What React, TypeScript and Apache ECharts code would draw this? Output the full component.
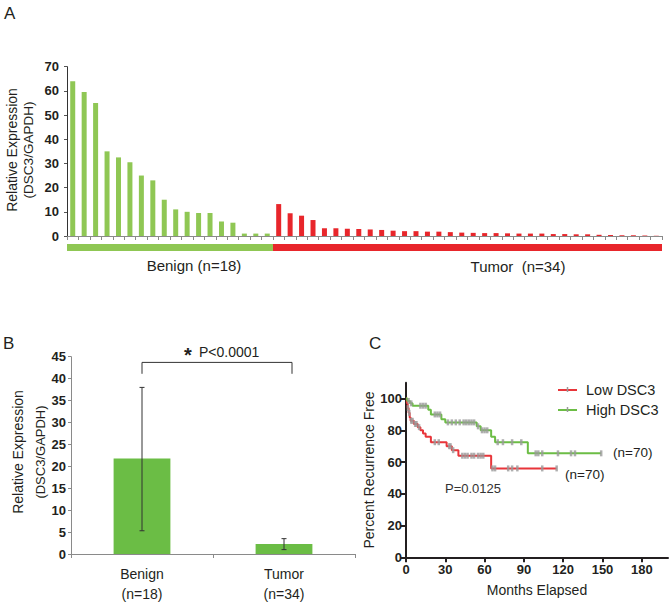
import React, { useEffect, useRef } from "react";
import * as echarts from "echarts";

const FONT = '"Liberation Sans", Arial, Helvetica, sans-serif';

// Panel A
const benignValues = [64, 59.5, 55, 35, 32.5, 30.5, 25, 23, 15, 11, 10, 9.5, 9.5, 6, 5.5, 1, 1, 1];
const tumorValues = [13.2, 9.4, 8.4, 6.6, 3.2, 3.2, 3.0, 2.9, 2.7, 2.5, 2.2, 2.0, 2.0, 1.8, 1.8, 1.6, 1.4, 1.3, 1.2, 1.2, 1.1, 1.0, 1.0, 1.0, 0.8, 0.8, 0.7, 0.7, 0.5, 0.4, 0.3, 0.3, 0.2, 0.1];
const groupLabels = ["Benign (n=18)", "Tumor  (n=34)"];

// Panel B
const bCategories = ["Benign\n(n=18)", "Tumor\n(n=34)"];
const bMeans = [21.8, 2.3];
const bErrLow = [5.3, 1.0];
const bErrHigh = [38.0, 3.5];
const bSignificance = "P<0.0001";
const bBracketY = [43.7, 41.1];

// Panel C (Kaplan–Meier steps: [month, percent])
const lowDsc3Steps = [[0, 100], [0.7, 97], [1.3, 94], [2, 91], [2.8, 88], [3.5, 86], [6, 84], [9, 82], [11, 80], [13, 78], [15, 76], [19, 72.5], [31, 70], [35, 67.5], [40, 64], [65, 56], [115, 56]];
const highDsc3Steps = [[0, 100], [1, 98.5], [3, 97], [5, 95.5], [17, 93], [19, 90], [27, 87], [30, 85], [54, 82.5], [57, 80], [65, 76], [68, 72.5], [93, 65.5], [149, 65.5]];
const lowCensor = [1.5, 2.5, 4, 5, 7, 8, 10, 22, 25, 33, 34, 36, 43, 45, 47, 50, 52, 55, 57, 59, 66, 68, 78, 81, 85, 104, 115];
const highCensor = [2, 4, 11, 13, 15, 22, 24, 26, 32, 35, 38, 41, 44, 46, 48, 50, 52, 55, 58, 60, 62, 70, 74, 81, 88, 99, 101, 104, 116, 126, 129, 149];
const cXTicks = [0, 30, 60, 90, 120, 150, 180];
const cYTicks = [0, 20, 40, 60, 80, 100];

function survivalAt(steps: number[][], t: number) {
  let s = steps[0][1];
  for (const [tt, v] of steps) {
    if (tt <= t) s = v;
  }
  return s;
}

const RED = "#e8262b";
const GREEN_A = "#8fc754";
const GREEN_B = "#6bbd45";
const GREEN_C = "#6cbd45";
const RED_C = "#e8353a";

export default function App() {
  const ref = useRef<HTMLDivElement>(null);
  useEffect(() => {
    if (!ref.current) return;
    const chart = echarts.init(ref.current, null, { renderer: "svg" });

    const nA = benignValues.length + tumorValues.length;
    const aCats = Array.from({ length: nA }, (_, i) => String(i + 1));
    const gridA = { left: 67, right: 10, top: 66.7, bottom: 368 };
    const aWidth = 672 - gridA.left - gridA.right;
    const splitX = gridA.left + (aWidth * benignValues.length) / nA;

    const boldTick = { fontWeight: "bold" as const, fontSize: 13, color: "#231f20", fontFamily: FONT };

    const option: any = {
      animation: false,
      backgroundColor: "#ffffff",
      grid: [
        gridA,
        { left: 71, width: 284, top: 356.7, bottom: 47 },
        { left: 406, right: 4, top: 382.7, bottom: 46.7 },
      ],
      xAxis: [
        {
          gridIndex: 0,
          type: "category",
          data: aCats,
          boundaryGap: true,
          axisLine: { lineStyle: { color: "#8a8a8a", width: 1 } },
          axisTick: { show: true, interval: 0, length: 4, lineStyle: { color: "#8a8a8a" } },
          axisLabel: { show: false },
        },
        {
          gridIndex: 1,
          type: "category",
          data: bCategories,
          boundaryGap: true,
          axisLine: { lineStyle: { color: "#8a8a8a", width: 1 } },
          axisTick: { show: true, length: 4, lineStyle: { color: "#8a8a8a" } },
          axisLabel: { fontSize: 14, color: "#231f20", fontFamily: FONT, lineHeight: 20, margin: 10 },
        },
        {
          gridIndex: 2,
          type: "value",
          min: 0,
          max: 200,
          splitLine: { show: false },
          axisLine: { lineStyle: { color: "#231f20", width: 2 } },
          axisTick: { show: true, length: 5, lineStyle: { color: "#231f20", width: 2 }, customValues: cXTicks },
          axisLabel: { ...boldTick, customValues: cXTicks, margin: 6 },
          name: "Months Elapsed",
          nameLocation: "middle",
          nameGap: 26,
          nameTextStyle: { fontSize: 14, color: "#231f20", fontFamily: FONT },
        },
      ],
      yAxis: [
        {
          gridIndex: 0,
          type: "value",
          min: 0,
          max: 70,
          interval: 10,
          splitLine: { show: false },
          axisLine: { show: true, lineStyle: { color: "#333", width: 1 } },
          axisTick: { show: true, length: 3, lineStyle: { color: "#555" } },
          axisLabel: { ...boldTick, margin: 8 },
        },
        {
          gridIndex: 1,
          type: "value",
          min: 0,
          max: 45,
          interval: 5,
          splitLine: { show: false },
          axisLine: { show: true, lineStyle: { color: "#8a8a8a", width: 1 } },
          axisTick: { show: true, length: 3, lineStyle: { color: "#8a8a8a" } },
          axisLabel: { ...boldTick, margin: 5 },
        },
        {
          gridIndex: 2,
          type: "value",
          min: 0,
          max: 110,
          splitLine: { show: false },
          axisLine: { show: true, lineStyle: { color: "#231f20", width: 2 } },
          axisTick: { show: true, length: 5, lineStyle: { color: "#231f20", width: 2 }, customValues: cYTicks },
          axisLabel: { ...boldTick, customValues: cYTicks, margin: 4 },
          name: "Percent Recurrence Free",
          nameLocation: "middle",
          nameGap: 28,
          nameTextStyle: { fontSize: 14, color: "#231f20", fontFamily: FONT },
        },
      ],
      series: [
        {
          type: "bar",
          xAxisIndex: 0,
          yAxisIndex: 0,
          barWidth: 5,
          data: [
            ...benignValues.map((v) => ({ value: v, itemStyle: { color: GREEN_A } })),
            ...tumorValues.map((v) => ({ value: v, itemStyle: { color: RED } })),
          ],
        },
        {
          type: "bar",
          xAxisIndex: 1,
          yAxisIndex: 1,
          barWidth: "40%",
          itemStyle: { color: GREEN_B },
          data: bMeans,
        },
        {
          type: "custom",
          xAxisIndex: 1,
          yAxisIndex: 1,
          encode: { x: 0, y: [1, 2] },
          data: bMeans.map((_, i) => [i, bErrLow[i], bErrHigh[i]]),
          z: 10,
          renderItem: (params: any, api: any) => {
            const x = api.value(0);
            const lo = api.coord([x, api.value(1)]);
            const hi = api.coord([x, api.value(2)]);
            const cap = 2.5;
            const st = { stroke: "#333", lineWidth: 1 };
            return {
              type: "group",
              children: [
                { type: "line", shape: { x1: lo[0], y1: lo[1], x2: hi[0], y2: hi[1] }, style: st },
                { type: "line", shape: { x1: hi[0] - cap, y1: hi[1], x2: hi[0] + cap, y2: hi[1] }, style: st },
                { type: "line", shape: { x1: lo[0] - cap, y1: lo[1], x2: lo[0] + cap, y2: lo[1] }, style: st },
              ],
            };
          },
        },
        {
          type: "custom",
          xAxisIndex: 1,
          yAxisIndex: 1,
          encode: { x: [0, 1], y: [2, 3] },
          data: [[0, 1, bBracketY[0], bBracketY[1]]],
          z: 10,
          renderItem: (params: any, api: any) => {
            const a = api.coord([api.value(0), api.value(2)]);
            const b = api.coord([api.value(1), api.value(2)]);
            const aLeg = api.coord([api.value(0), api.value(3)]);
            const x2 = b[0] + 8;
            const st = { stroke: "#333", lineWidth: 1, fill: null };
            const mid = (a[0] + x2) / 2;
            return {
              type: "group",
              children: [
                { type: "polyline", shape: { points: [[a[0], aLeg[1]], [a[0], a[1]], [x2, a[1]], [x2, aLeg[1]]] }, style: st },
                { type: "text", style: { text: "*", x: mid - 29, y: a[1] - 7, fontSize: 20, fontWeight: "bold", fontFamily: FONT, fill: "#231f20", align: "center", verticalAlign: "middle" } },
                { type: "text", style: { text: bSignificance, x: mid - 18, y: a[1] - 10, fontSize: 14, fontFamily: FONT, fill: "#231f20", align: "left", verticalAlign: "middle" } },
              ],
            };
          },
        },
        {
          type: "line",
          name: "Low DSC3",
          xAxisIndex: 2,
          yAxisIndex: 2,
          step: "end",
          showSymbol: false,
          lineStyle: { color: RED_C, width: 2 },
          data: lowDsc3Steps,
          z: 3,
        },
        {
          type: "line",
          name: "High DSC3",
          xAxisIndex: 2,
          yAxisIndex: 2,
          step: "end",
          showSymbol: false,
          lineStyle: { color: GREEN_C, width: 2 },
          data: highDsc3Steps,
          z: 3,
        },
        {
          type: "scatter",
          xAxisIndex: 2,
          yAxisIndex: 2,
          symbol: "rect",
          symbolSize: [2.5, 6],
          itemStyle: { color: "#9a9a9a" },
          data: lowCensor.map((t) => [t, survivalAt(lowDsc3Steps, t)]),
          z: 5,
        },
        {
          type: "scatter",
          xAxisIndex: 2,
          yAxisIndex: 2,
          symbol: "rect",
          symbolSize: [2.5, 6],
          itemStyle: { color: "#9a9a9a" },
          data: highCensor.map((t) => [t, survivalAt(highDsc3Steps, t)]),
          z: 5,
        },
      ],
      graphic: [
        // panel letters
        { type: "text", left: 4, top: 5, style: { text: "A", fontSize: 17, fontFamily: FONT, fill: "#231f20" } },
        { type: "text", left: 3, top: 335, style: { text: "B", fontSize: 17, fontFamily: FONT, fill: "#231f20" } },
        { type: "text", left: 369, top: 335, style: { text: "C", fontSize: 17, fontFamily: FONT, fill: "#231f20" } },
        // panel A y label
        { type: "text", x: 12, y: 150, rotation: Math.PI / 2, style: { text: "Relative Expression", fontSize: 14, fontFamily: FONT, fill: "#231f20", align: "center", verticalAlign: "middle" } },
        { type: "text", x: 28, y: 150, rotation: Math.PI / 2, style: { text: "(DSC3/GAPDH)", fontSize: 13.5, fontFamily: FONT, fill: "#231f20", align: "center", verticalAlign: "middle" } },
        // panel A group band
        { type: "rect", shape: { x: gridA.left, y: 244, width: splitX - gridA.left, height: 7 }, style: { fill: GREEN_A } },
        { type: "rect", shape: { x: splitX, y: 244, width: 672 - gridA.right - splitX, height: 7 }, style: { fill: RED } },
        { type: "text", x: 194, y: 265, style: { text: groupLabels[0], fontSize: 15, fontFamily: FONT, fill: "#231f20", align: "center", verticalAlign: "middle" } },
        { type: "text", x: 518, y: 266, style: { text: groupLabels[1], fontSize: 15, fontFamily: FONT, fill: "#231f20", align: "center", verticalAlign: "middle" } },
        // panel B y label
        { type: "text", x: 18, y: 452, rotation: Math.PI / 2, style: { text: "Relative Expression", fontSize: 14, fontFamily: FONT, fill: "#231f20", align: "center", verticalAlign: "middle" } },
        { type: "text", x: 40, y: 452, rotation: Math.PI / 2, style: { text: "(DSC3/GAPDH)", fontSize: 13, fontFamily: FONT, fill: "#231f20", align: "center", verticalAlign: "middle" } },
        // panel C legend
        { type: "line", shape: { x1: 558, y1: 390, x2: 577, y2: 390 }, style: { stroke: RED_C, lineWidth: 2 } },
        { type: "line", shape: { x1: 567.5, y1: 387, x2: 567.5, y2: 392 }, style: { stroke: "#9a9a9a", lineWidth: 1.5 } },
        { type: "text", x: 586, y: 390, style: { text: "Low DSC3", fontSize: 14.5, fontFamily: FONT, fill: "#231f20", verticalAlign: "middle" } },
        { type: "line", shape: { x1: 558, y1: 410, x2: 577, y2: 410 }, style: { stroke: GREEN_C, lineWidth: 2 } },
        { type: "line", shape: { x1: 567.5, y1: 407, x2: 567.5, y2: 412 }, style: { stroke: "#9a9a9a", lineWidth: 1.5 } },
        { type: "text", x: 586, y: 410, style: { text: "High DSC3", fontSize: 14.5, fontFamily: FONT, fill: "#231f20", verticalAlign: "middle" } },
        // panel C annotations
        { type: "text", x: 613, y: 452, style: { text: "(n=70)", fontSize: 13.5, fontFamily: FONT, fill: "#231f20", verticalAlign: "middle" } },
        { type: "text", x: 565, y: 474, style: { text: "(n=70)", fontSize: 13.5, fontFamily: FONT, fill: "#231f20", verticalAlign: "middle" } },
        { type: "text", x: 445, y: 488, style: { text: "P=0.0125", fontSize: 13, fontFamily: FONT, fill: "#333", verticalAlign: "middle" } },
      ],
    };

    chart.setOption(option);
    return () => chart.dispose();
  }, []);

  return <div ref={ref} style={{ position: "fixed", left: 0, top: 0, width: 672, height: 604, background: "#fff" }} />;
}
